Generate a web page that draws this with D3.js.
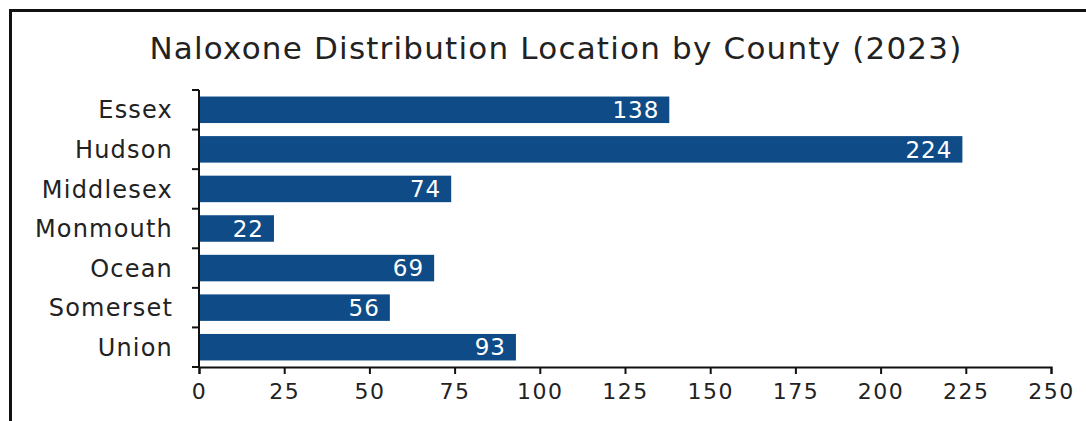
<!DOCTYPE html>
<html>
<head>
<meta charset="utf-8">
<script src="https://cdn.jsdelivr.net/npm/d3@7"></script>
<style>
  body { margin: 0; background: #fff; }
  svg { display: block; }
</style>
</head>
<body>
<div id="chart"></div>
<script>
var counties = ["Essex", "Hudson", "Middlesex", "Monmouth", "Ocean", "Somerset", "Union"];
var locations = [138, 224, 74, 22, 69, 56, 93];
var xTicks = [0, 25, 50, 75, 100, 125, 150, 175, 200, 225, 250];

var W = 1086, H = 421;
var margin = { top: 90, right: 35, bottom: 54, left: 199 };
var font = "'DejaVu Sans', 'Noto Sans', sans-serif";

var svg = d3.select("#chart").append("svg")
  .attr("width", W)
  .attr("height", H)
  .style("font-family", font);

// frame around the chart (cropped on right and bottom)
svg.append("path")
  .attr("d", "M10.5," + H + " V10.5 H" + W)
  .attr("fill", "none")
  .attr("stroke", "#111")
  .attr("stroke-width", 3);

svg.append("text")
  .attr("x", 556)
  .attr("y", 59)
  .attr("text-anchor", "middle")
  .attr("fill", "#222")
  .style("font-size", "31px")
  .style("letter-spacing", "1.2px")
  .text("Naloxone Distribution Location by County (2023)");

var x = d3.scaleLinear()
  .domain([0, 250])
  .range([margin.left, W - margin.right]);

var y = d3.scaleBand()
  .domain(counties)
  .range([margin.top, H - margin.bottom])
  .paddingInner(0.33)
  .paddingOuter(0.165);

var data = counties.map(function(c, i) {
  return { county: c, value: locations[i] };
});

svg.selectAll("rect.bar")
  .data(data)
  .enter().append("rect")
  .attr("class", "bar")
  .attr("x", x(0))
  .attr("y", function(d) { return y(d.county); })
  .attr("width", function(d) { return x(d.value) - x(0); })
  .attr("height", y.bandwidth())
  .attr("fill", "#0f4c87");

svg.selectAll("text.val")
  .data(data)
  .enter().append("text")
  .attr("class", "val")
  .attr("x", function(d) { return x(d.value) - 10; })
  .attr("y", function(d) { return y(d.county) + y.bandwidth() / 2; })
  .attr("dy", "0.36em")
  .attr("text-anchor", "end")
  .attr("fill", "#fff")
  .style("font-size", "23px")
  .style("letter-spacing", "1px")
  .text(function(d) { return d.value; });

// x axis
var xAxis = svg.append("g")
  .attr("transform", "translate(0," + (H - margin.bottom) + ")")
  .call(d3.axisBottom(x).tickValues(xTicks).tickSize(7).tickSizeOuter(7));
xAxis.select(".domain").attr("stroke", "#111").attr("stroke-width", 2);
xAxis.selectAll(".tick line").attr("stroke", "#111").attr("stroke-width", 2);
xAxis.selectAll(".tick text")
  .attr("fill", "#222")
  .attr("dy", "0.71em")
  .attr("y", 16)
  .style("font-size", "22px")
  .style("letter-spacing", "1.5px")
  .style("font-family", font);

// y axis: line with ticks at category boundaries
var yAxis = svg.append("g")
  .attr("transform", "translate(" + x(0) + ",0)");
yAxis.append("line")
  .attr("y1", margin.top)
  .attr("y2", H - margin.bottom)
  .attr("stroke", "#111")
  .attr("stroke-width", 2);
var bounds = d3.range(counties.length + 1).map(function(i) {
  return margin.top + i * (H - margin.bottom - margin.top) / counties.length;
});
yAxis.selectAll("line.tk")
  .data(bounds)
  .enter().append("line")
  .attr("class", "tk")
  .attr("x1", -7)
  .attr("x2", 0)
  .attr("y1", function(d) { return d; })
  .attr("y2", function(d) { return d; })
  .attr("stroke", "#111")
  .attr("stroke-width", 2);

svg.selectAll("text.cat")
  .data(counties)
  .enter().append("text")
  .attr("class", "cat")
  .attr("x", x(0) - 26)
  .attr("y", function(d) { return y(d) + y.bandwidth() / 2; })
  .attr("dy", "0.36em")
  .attr("text-anchor", "end")
  .attr("fill", "#222")
  .style("font-size", "24px")
  .style("letter-spacing", "1.2px")
  .text(function(d) { return d; });
</script>
</body>
</html>
